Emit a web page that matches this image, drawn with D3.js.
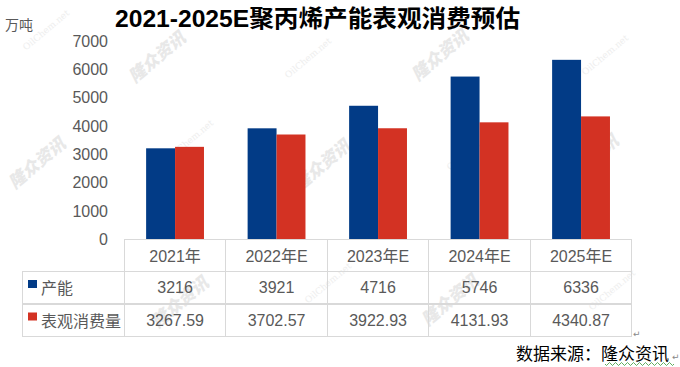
<!DOCTYPE html>
<html>
<head>
<meta charset="utf-8">
<script src="https://cdn.jsdelivr.net/npm/d3@7"></script>
<style>
  html, body { margin: 0; padding: 0; background: #fff; }
  svg { display: block; }
</style>
</head>
<body>
<svg id="chart" width="680" height="367"></svg>
<script>
const categories = ["2021年", "2022年E", "2023年E", "2024年E", "2025年E"];
const seriesNames = ["产能", "表观消费量"];
const capacity = [3216, 3921, 4716, 5746, 6336];
const consumption = [3267.59, 3702.57, 3922.93, 4131.93, 4340.87];
const yTicks = [0, 1000, 2000, 3000, 4000, 5000, 6000, 7000];
const colors = ["#023B86", "#D33223"];
const titleText = "2021-2025E聚丙烯产能表观消费预估";
const unitText = "万吨";
const sourceText = "数据来源：隆众资讯";

const series = [capacity, consumption];
const FONT = "'Liberation Sans', 'Noto Sans CJK SC', sans-serif";
const svg = d3.select("#chart");
const grey = "#595959";
const lineCol = "#d9d9d9";

// watermarks (behind)
const wm = svg.append("g");
const wmLogo = [[157,57],[37,163],[322,165],[440,55],[590,160],[180,302],[450,300]];
wmLogo.forEach(([x,y]) => {
  wm.append("text").attr("transform", `translate(${x},${y}) rotate(-40)`)
    .attr("text-anchor","middle").attr("dy","0.35em")
    .style("font-family","'Noto Sans CJK SC', sans-serif").style("font-weight","900")
    .style("font-style","italic").style("font-size","17px").style("fill","#e8e8e8")
    .text("隆众资讯");
});
const wmNet = [[46,30],[308,58],[605,55],[190,140],[470,150],[328,283],[612,290]];
wmNet.forEach(([x,y]) => {
  wm.append("text").attr("transform", `translate(${x},${y}) rotate(-40)`)
    .attr("text-anchor","middle").attr("dy","0.35em")
    .style("font-family","'DejaVu Serif', serif").style("font-size","9px").style("fill","#eeeeee")
    .text("OilChem.net");
});

const x = d3.scaleBand().domain(categories).range([124.3, 631.8]).paddingInner(0.43).paddingOuter(0.215);
const xs = d3.scaleBand().domain(seriesNames).range([0, x.bandwidth()]);
const y = d3.scaleLinear().domain([0, 7000]).range([239.5, 41]);
const step = x.step();
const colLeft = c => x(c) - x.paddingOuter() * step;

// title
svg.append("text").attr("x", 115).attr("y", 27)
  .attr("textLength", 405).attr("lengthAdjust", "spacingAndGlyphs")
  .style("font-family", FONT).style("font-weight", "bold").style("font-size", "24px")
  .style("fill", "#000").text(titleText);

// unit
svg.append("text").attr("x", 5).attr("y", 25).attr("dy", "0.35em")
  .style("font-family", FONT).style("font-size", "14px").style("fill", grey).text(unitText);

// y axis
const yAxis = d3.axisLeft(y).tickValues(yTicks).tickSize(0).tickPadding(0).tickFormat(d3.format("d"));
const yg = svg.append("g").attr("transform", "translate(108,0)").call(yAxis);
yg.select(".domain").remove();
yg.selectAll("text").style("font-family", FONT).style("font-size", "16px").style("fill", grey);

// bars
series.forEach((vals, si) => {
  svg.append("g").selectAll("rect").data(vals).join("rect")
    .attr("x", (d, i) => x(categories[i]) + xs(seriesNames[si]))
    .attr("width", xs.bandwidth())
    .attr("y", d => y(d))
    .attr("height", d => y(0) - y(d))
    .attr("fill", colors[si]);
});

// table
const tableLeft = 22.3, tableRight = 631.8;
const rowTop = y(0), row1 = 271.5, row2 = 304, rowBot = 336.3;
const tg = svg.append("g").attr("stroke", lineCol).attr("stroke-width", 1.3).attr("shape-rendering", "crispEdges");
tg.append("line").attr("x1", colLeft(categories[0])).attr("x2", tableRight).attr("y1", rowTop).attr("y2", rowTop);
[row1, row2, rowBot].forEach(r => tg.append("line").attr("x1", tableLeft).attr("x2", tableRight).attr("y1", r).attr("y2", r));
tg.append("line").attr("x1", tableLeft).attr("x2", tableLeft).attr("y1", row1).attr("y2", rowBot);
categories.forEach(c => tg.append("line").attr("x1", colLeft(c)).attr("x2", colLeft(c)).attr("y1", rowTop).attr("y2", rowBot));
tg.append("line").attr("x1", tableRight).attr("x2", tableRight).attr("y1", rowTop).attr("y2", rowBot);

// category labels
svg.append("g").selectAll("text").data(categories).join("text")
  .attr("x", d => x(d) + x.bandwidth() / 2).attr("y", 256).attr("dy", "0.35em")
  .attr("text-anchor", "middle")
  .style("font-family", FONT).style("font-size", "16px").style("fill", grey)
  .text(d => d);

// rows
const rowCenters = [287.5, 320];
series.forEach((vals, si) => {
  const cy = rowCenters[si];
  svg.append("rect").attr("x", 28).attr("y", cy - 7.5).attr("width", 9).attr("height", 8).attr("fill", colors[si]);
  svg.append("text").attr("x", 41).attr("y", cy + 1).attr("dy", "0.35em")
    .style("font-family", FONT).style("font-size", "16px").style("fill", grey).text(seriesNames[si]);
  svg.append("g").selectAll("text").data(vals).join("text")
    .attr("x", (d, i) => x(categories[i]) + x.bandwidth() / 2).attr("y", cy).attr("dy", "0.35em")
    .attr("text-anchor", "middle")
    .style("font-family", FONT).style("font-size", "16px").style("fill", grey)
    .text(d => String(d));
});

// paragraph mark
svg.append("text").attr("x", 633).attr("y", 337)
  .style("font-family", "'DejaVu Sans', sans-serif").style("font-size", "9px").style("fill", "#888").text("↵");

// source
svg.append("text").attr("x", 516).attr("y", 360)
  .style("font-family", "'Noto Sans CJK SC', sans-serif").style("font-size", "17px").style("fill", "#000").text(sourceText);
// wavy underline
let wave = "M605,364";
for (let xx = 605; xx < 672; xx += 3) wave += ` L${xx + 1.5},${xx % 6 === 2 ? 362.5 : 365.5} L${xx + 3},364`;
svg.append("path").attr("d", wave).attr("fill", "none").attr("stroke", "#3a9a3a").attr("stroke-width", 0.8);
svg.append("text").attr("x", 672).attr("y", 360)
  .style("font-family", "'DejaVu Sans', sans-serif").style("font-size", "9px").style("fill", "#888").text("↵");
</script>
</body>
</html>
